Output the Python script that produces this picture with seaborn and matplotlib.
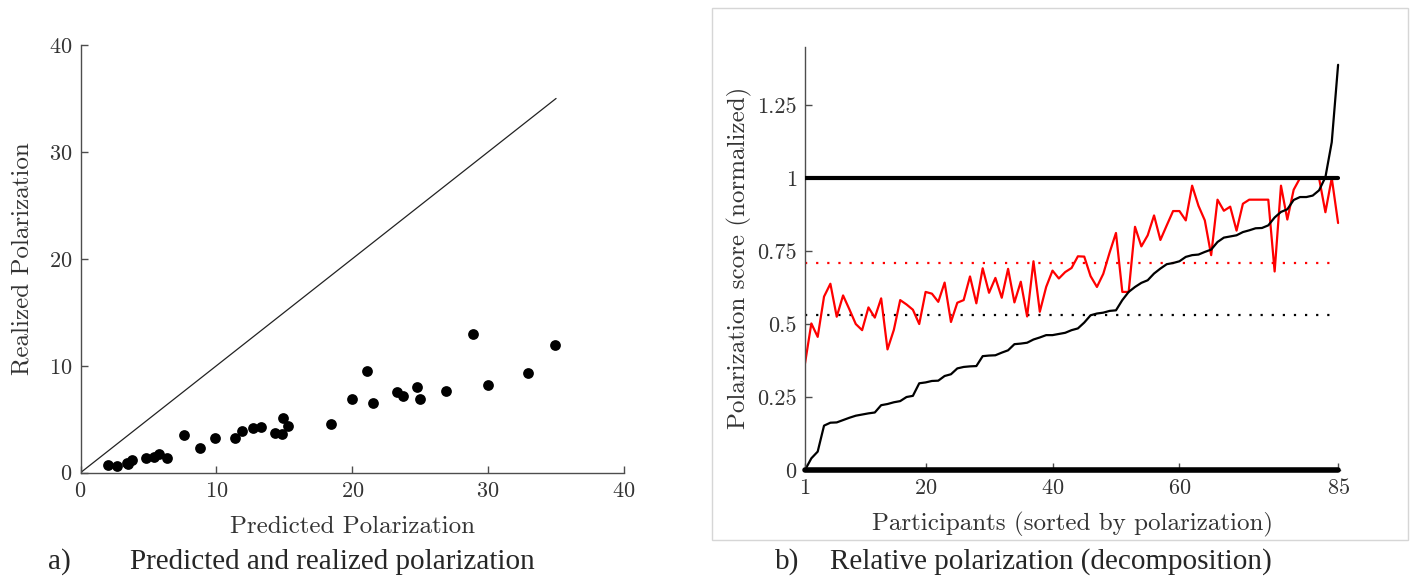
# tratamiento de datos
import numpy as np
import pandas as pd

# visualizaciones
import matplotlib.pyplot as plt
import matplotlib.patches as mpatches
import seaborn as sns

# panel a) polarizacion predicha vs realizada
predicha = [2.0, 2.7, 3.4, 3.8, 3.5, 4.8, 5.4, 5.8, 6.4, 7.6,
            8.8, 9.9, 11.4, 11.9, 12.7, 13.3, 14.3, 14.8, 14.9, 15.3,
            18.4, 20.0, 21.1, 21.5, 23.3, 23.7, 24.8, 25.0, 26.9, 28.9,
            30.0, 32.9, 34.9]
realizada = [0.72, 0.63, 0.88, 1.19, 0.78, 1.41, 1.44, 1.75, 1.35, 3.53,
             2.28, 3.22, 3.28, 3.91, 4.16, 4.31, 3.69, 3.63, 5.16, 4.41,
             4.53, 6.88, 9.5, 6.56, 7.56, 7.19, 8.0, 6.88, 7.63, 12.97,
             8.22, 9.31, 11.97]
diagonal = [0, 35]

# panel b) descomposicion por participante
participantes = list(range(1, 86))
score_negro = [0.0, 0.04, 0.063, 0.152, 0.162, 0.163, 0.171, 0.179, 0.186, 0.19,
               0.194, 0.197, 0.222, 0.226, 0.232, 0.236, 0.25, 0.254, 0.297, 0.3,
               0.305, 0.306, 0.322, 0.328, 0.348, 0.353, 0.355, 0.356, 0.39, 0.392,
               0.393, 0.402, 0.41, 0.431, 0.433, 0.436, 0.447, 0.454, 0.462, 0.462,
               0.466, 0.47, 0.479, 0.485, 0.505, 0.53, 0.536, 0.539, 0.545, 0.547,
               0.582, 0.61, 0.627, 0.641, 0.65, 0.673, 0.69, 0.705, 0.709, 0.715,
               0.73, 0.736, 0.738, 0.747, 0.755, 0.781, 0.796, 0.8, 0.804, 0.815,
               0.821, 0.828, 0.829, 0.838, 0.865, 0.884, 0.893, 0.925, 0.935, 0.935,
               0.94, 0.958, 1.003, 1.123, 1.388]
score_rojo = [0.365, 0.502, 0.456, 0.594, 0.638, 0.525, 0.598, 0.55, 0.5, 0.479,
              0.557, 0.522, 0.588, 0.413, 0.48, 0.582, 0.567, 0.549, 0.5, 0.61,
              0.604, 0.576, 0.642, 0.507, 0.573, 0.582, 0.663, 0.571, 0.691, 0.607,
              0.658, 0.59, 0.689, 0.574, 0.645, 0.526, 0.715, 0.542, 0.627, 0.683,
              0.656, 0.678, 0.692, 0.732, 0.731, 0.664, 0.627, 0.672, 0.745, 0.812,
              0.61, 0.61, 0.833, 0.766, 0.804, 0.872, 0.788, 0.838, 0.887, 0.887,
              0.855, 0.974, 0.905, 0.855, 0.736, 0.926, 0.888, 0.902, 0.82, 0.912,
              0.926, 0.926, 0.926, 0.926, 0.68, 0.974, 0.858, 0.96, 1.0, 1.0,
              1.0, 1.0, 0.883, 1.0, 0.846]
media_rojo = 0.71
media_negro = 0.53
limites = [0, 1]

x_ticks_b = [1, 20, 40, 60, 85]
y_ticks_b = [0, 0.25, 0.5, 0.75, 1, 1.25]
y_labels_b = ['0', '0.25', '0.5', '0.75', '1', '1.25']

df_a = pd.DataFrame({'predicha': predicha, 'realizada': realizada})
df_b = pd.DataFrame({'participante': participantes,
                     'negro': score_negro,
                     'rojo': score_rojo})

sns.set_style('ticks')
plt.rcParams['font.family'] = ['cmr10', 'DejaVu Serif']
plt.rcParams['axes.formatter.use_mathtext'] = True
plt.rcParams['axes.unicode_minus'] = False

gris = '#4d4d4d'
W, H = 1413, 578
fig = plt.figure(figsize=(W / 100, H / 100), dpi=100)

ax1 = fig.add_axes([80.5 / W, 1 - 472.7 / H, 543.5 / W, 427.7 / H])
ax2 = fig.add_axes([805 / W, 1 - 470 / H, 535 / W, 423.3 / H])

# a)
sns.lineplot(x=diagonal, y=diagonal, ax=ax1, color='#222222', linewidth=0.9)
sns.scatterplot(data=df_a, x='predicha', y='realizada', ax=ax1,
                color='black', s=60, edgecolor='black', linewidth=0, zorder=3)
ax1.set_xlim(0, 40)
ax1.set_ylim(0, 40)
ax1.set_xticks([0, 10, 20, 30, 40])
ax1.set_yticks([0, 10, 20, 30, 40])
ax1.set_xlabel('Predicted Polarization', fontsize=18, color='#333333')
ax1.set_ylabel('Realized Polarization', fontsize=18, color='#333333')
ax1.xaxis.set_label_coords(0.5, -0.1)
ax1.yaxis.set_label_coords(-0.086, 0.5)
sns.despine(ax=ax1)

# b)
sns.lineplot(x=[1, 85], y=[limites[0]] * 2, ax=ax2, color='black', linewidth=4,
             clip_on=False, zorder=4)
sns.lineplot(x=[1, 85], y=[limites[1]] * 2, ax=ax2, color='black', linewidth=3, zorder=4)
sns.lineplot(x=[1, 85], y=[media_rojo] * 2, ax=ax2, color='red', linewidth=1.6, linestyle=(0, (1, 4)))
sns.lineplot(x=[1, 85], y=[media_negro] * 2, ax=ax2, color='black', linewidth=1.6, linestyle=(0, (1, 4)))
sns.lineplot(data=df_b, x='participante', y='rojo', ax=ax2, color='red', linewidth=1.6)
sns.lineplot(data=df_b, x='participante', y='negro', ax=ax2, color='black', linewidth=1.6)
ax2.set_xlim(1, 85.3)
ax2.set_ylim(0, 1.45)
ax2.set_xticks(x_ticks_b)
ax2.set_yticks(y_ticks_b)
ax2.set_yticklabels(y_labels_b)
ax2.set_xlabel('Participants (sorted by polarization)', fontsize=18, color='#333333')
ax2.set_ylabel('Polarization score (normalized)', fontsize=18, color='#333333')
ax2.xaxis.set_label_coords(0.5, -0.1)
ax2.yaxis.set_label_coords(-0.099, 0.5)
sns.despine(ax=ax2)

for ax in (ax1, ax2):
    ax.tick_params(direction='in', length=5, width=1, colors=gris,
                   labelsize=16, labelcolor='#333333', pad=6)
    for lado in ('left', 'bottom'):
        ax.spines[lado].set_color(gris)
        ax.spines[lado].set_linewidth(1)

# marco del panel b
fig.patches.append(mpatches.Rectangle((712 / W, 1 - 540 / H), 696 / W, 532 / H,
                                      transform=fig.transFigure, fill=False,
                                      edgecolor='#d6d6d6', linewidth=1))

# pies de figura
pie = dict(fontsize=21, family=['Liberation Serif', 'DejaVu Serif'], va='center')
fig.text(48 / W, 1 - 562 / H, 'a)', **pie)
fig.text(130 / W, 1 - 562 / H, 'Predicted and realized polarization', **pie)
fig.text(775 / W, 1 - 562 / H, 'b)', **pie)
fig.text(830 / W, 1 - 562 / H, 'Relative polarization (decomposition)', **pie)

fig.savefig('out.png', dpi=100)
